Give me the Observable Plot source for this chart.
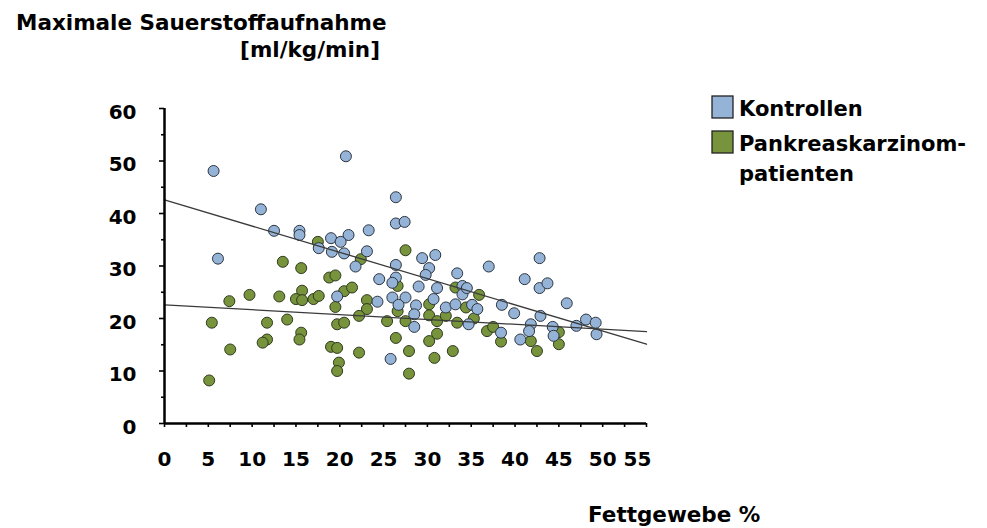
<!DOCTYPE html>
<html>
<head>
<meta charset="utf-8">
<script src="https://cdn.jsdelivr.net/npm/d3@7"></script>
<script src="https://cdn.jsdelivr.net/npm/@observablehq/plot@0.6"></script>
<style>
  body { margin: 0; background: #fff; }
  #chart { width: 987px; height: 528px; }
</style>
</head>
<body>
<div id="chart"></div>
<script>
// Kontrollen: Fettgewebe (%) and maximale Sauerstoffaufnahme (ml/kg/min)
const kontrollenFett = [5.6, 11.0, 12.5, 15.4, 15.4, 17.6, 6.1, 20.7, 26.4, 26.4, 27.4, 23.3, 21.0, 19.0, 20.1,
  19.1, 20.5, 23.1, 21.8, 29.4, 30.9, 26.4, 30.2, 29.8, 33.4, 24.5, 26.4, 26.0, 29.0, 31.1, 34.0, 34.0,
  19.7, 24.3, 26.0, 27.5, 26.7, 28.7, 30.7, 32.1, 33.2, 35.1, 28.5, 28.5, 34.7, 25.8,
  37.0, 42.8, 41.1, 42.8, 43.7, 45.9, 35.7, 38.5, 39.9, 42.9, 41.8, 41.6, 38.4, 40.6, 44.3, 44.4,
  47.0, 48.1, 49.2, 49.3, 34.5];
const kontrollenVO2 = [48.1, 40.8, 36.7, 36.7, 35.9, 33.4, 31.4, 50.9, 43.1, 38.1, 38.4, 36.8, 35.9, 35.3, 34.6,
  32.7, 32.4, 32.8, 29.9, 31.5, 32.1, 30.2, 29.6, 28.3, 28.6, 27.5, 27.8, 26.8, 26.1, 25.8, 26.2, 24.6,
  24.2, 23.2, 24.0, 24.0, 22.6, 22.5, 23.7, 22.1, 22.7, 22.6, 20.8, 18.4, 18.9, 12.3,
  29.9, 31.5, 27.5, 25.8, 26.7, 22.9, 21.8, 22.6, 21.0, 20.5, 18.9, 17.6, 17.3, 16.0, 18.4, 16.7,
  18.6, 19.8, 19.2, 17.0, 25.8];

// Pankreaskarzinompatienten
const patientenFett = [17.5, 13.5, 15.6, 15.7, 9.7, 13.1, 7.4, 15.0, 15.7, 17.0, 17.6, 5.4, 11.7, 14.0, 15.6,
  15.4, 11.7, 11.2, 7.5, 5.1, 27.5, 22.4, 18.8, 19.5, 20.5, 21.4, 19.5, 23.1, 23.1, 22.2, 19.7, 20.5,
  25.4, 27.5, 26.6, 26.6, 30.2, 30.2, 31.1, 32.1, 33.4, 26.4, 31.1, 30.2, 19.0, 19.7, 22.2, 27.9,
  30.8, 32.9, 19.9, 19.7, 27.9, 33.2, 35.9, 34.4, 35.3, 36.8, 37.5, 38.4, 41.8, 42.5, 45.0, 45.0];
const patientenVO2 = [34.6, 30.8, 29.6, 25.3, 24.5, 24.2, 23.3, 23.7, 23.5, 23.7, 24.3, 19.2, 19.2, 19.8, 17.3,
  16.0, 16.0, 15.4, 14.1, 8.2, 33.0, 31.3, 27.8, 28.2, 25.2, 25.9, 22.2, 23.5, 21.8, 20.5, 18.9, 19.2,
  19.5, 19.5, 26.2, 21.4, 22.7, 20.6, 19.5, 20.5, 19.2, 16.3, 17.1, 15.7, 14.6, 14.4, 13.5, 13.8,
  12.5, 13.8, 11.6, 10.0, 9.5, 25.9, 24.5, 22.1, 20.0, 17.6, 18.4, 15.6, 15.7, 13.8, 15.1, 17.4];

// Linear trend lines, evaluated at both ends of the x range
const trendFett = [0, 55];
const kontrollenTrend = [42.6, 15.1];
const patientenTrend = [22.6, 17.5];

// Axis ticks and labels
const xTicks = d3.range(0, 55.01, 2.5);
const xLabels = [0, 5, 10, 15, 20, 25, 30, 35, 40, 45, 50];
const xLastLabel = [55];
const yMajor = [0, 10, 20, 30, 40, 50, 60];
const yMinor = [5, 15, 25, 35, 45, 55];

const seriesNames = ["Kontrollen", "Pankreaskarzinom-"];
const seriesColors = ["#95B3D7", "#77933C"];

const kontrollen = kontrollenFett.map((f, i) => ({fett: f, vo2: kontrollenVO2[i]}));
const patienten = patientenFett.map((f, i) => ({fett: f, vo2: patientenVO2[i]}));
const trendK = trendFett.map((f, i) => ({fett: f, vo2: kontrollenTrend[i]}));
const trendP = trendFett.map((f, i) => ({fett: f, vo2: patientenTrend[i]}));

const FONT = "DejaVu Sans";

const chart = Plot.plot({
  width: 987,
  height: 528,
  marginLeft: 164,
  marginRight: 341,
  marginTop: 108,
  marginBottom: 105,
  x: {domain: [0, 55]},
  y: {domain: [0, 60]},
  style: {fontFamily: FONT, fontWeight: "bold", color: "#000", background: "#fff"},
  marks: [
    Plot.axisX({ticks: xTicks, tickSize: 4, strokeWidth: 1.6, tickFormat: () => "", label: null}),
    Plot.axisY({ticks: yMajor, tickSize: 5, strokeWidth: 1.6, tickFormat: () => "", label: null}),
    Plot.axisY({ticks: yMinor, tickSize: 3, strokeWidth: 1.6, tickFormat: () => "", label: null}),
    Plot.text(xLabels, {x: d => d, y: 0, dy: 36, text: d => String(d), fontSize: 20, fontWeight: "bold", fill: "#000"}),
    Plot.text(xLastLabel, {x: d => d, y: 0, dx: -9, dy: 36, text: d => String(d), fontSize: 20, fontWeight: "bold", fill: "#000"}),
    Plot.text(yMajor, {x: 0, y: d => d, dx: -28, dy: 4, textAnchor: "end", text: d => String(d), fontSize: 20, fontWeight: "bold", fill: "#000"}),
    Plot.dot(patienten, {x: "fett", y: "vo2", r: 5.5, fill: seriesColors[1], stroke: "#2f3a1f", strokeWidth: 1}),
    Plot.dot(kontrollen, {x: "fett", y: "vo2", r: 5.5, fill: seriesColors[0], stroke: "#2c3540", strokeWidth: 1}),
    Plot.line(trendK, {x: "fett", y: "vo2", stroke: "#3a3a3a", strokeWidth: 1.3}),
    Plot.line(trendP, {x: "fett", y: "vo2", stroke: "#3a3a3a", strokeWidth: 1.3}),
    Plot.ruleY([0], {x1: 0, x2: 55, stroke: "#000", strokeWidth: 2.5}),
    Plot.ruleX([0], {y1: 0, y2: 60, stroke: "#000", strokeWidth: 2.5})
  ]
});

const svg = d3.select(chart);

// Y-axis title (two lines)
svg.append("text").attr("x", 16).attr("y", 30).attr("text-anchor", "start")
  .attr("font-family", FONT).attr("font-weight", "bold").attr("font-size", 21.5)
  .attr("fill", "#000").text("Maximale Sauerstoffaufnahme");
svg.append("text").attr("x", 380).attr("y", 57).attr("text-anchor", "end")
  .attr("font-family", FONT).attr("font-weight", "bold").attr("font-size", 21.5)
  .attr("fill", "#000").text("[ml/kg/min]");

// X-axis title
svg.append("text").attr("x", 588).attr("y", 522).attr("text-anchor", "start")
  .attr("font-family", FONT).attr("font-weight", "bold").attr("font-size", 21.5)
  .attr("fill", "#000").text("Fettgewebe %");

// Legend
const legend = svg.append("g").attr("font-family", FONT).attr("font-weight", "bold")
  .attr("font-size", 21).attr("text-anchor", "start");
const legendTops = [96, 131];
seriesNames.forEach((name, i) => {
  legend.append("rect").attr("x", 712).attr("y", legendTops[i]).attr("width", 21).attr("height", 22)
    .attr("fill", seriesColors[i]).attr("stroke", "#222").attr("stroke-width", 1.3);
  legend.append("text").attr("x", 739).attr("y", legendTops[i] + 20).attr("fill", "#000").text(name);
});
legend.append("text").attr("x", 739).attr("y", 181).attr("fill", "#000").text("patienten");

document.getElementById("chart").appendChild(chart);
</script>
</body>
</html>
